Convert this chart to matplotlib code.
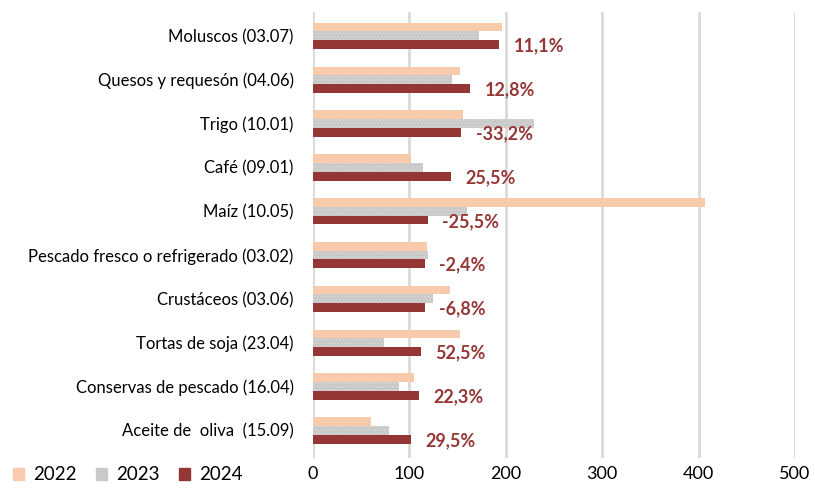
import numpy as np
import matplotlib.pyplot as plt
from matplotlib.patches import Patch

# Datos (de abajo hacia arriba)
productos = ['Aceite de  oliva  (15.09)', 'Conservas de pescado (16.04)', 'Tortas de soja (23.04)',
             'Crustáceos (03.06)', 'Pescado fresco o refrigerado (03.02)', 'Maíz (10.05)',
             'Café (09.01)', 'Trigo (10.01)', 'Quesos y requesón (04.06)', 'Moluscos (03.07)']
v2022 = [60, 105, 152, 142, 118, 407, 102, 156, 152, 196]
v2023 = [79, 89, 74, 124, 119, 160, 114, 229, 144, 172]
v2024 = [102, 110, 112, 116, 116, 119, 143, 154, 163, 193]
variacion = ['29,5%', '22,3%', '52,5%', '-6,8%', '-2,4%', '-25,5%', '25,5%', '-33,2%', '12,8%', '11,1%']

c22 = '#F8CBAD'
c23 = '#C9C9C9'
c24 = '#943634'

plt.rcParams['font.family'] = ['Lato', 'DejaVu Sans']
plt.rcParams['hatch.linewidth'] = 0.6

fig = plt.figure(figsize=(8.15, 4.88), dpi=100)
ax = fig.add_axes([0.384, 0.0615, 0.5915, 0.9135])

y = np.arange(len(productos))
h = 0.2
ax.barh(y + h, v2022, height=h, color=c22, zorder=3)
ax.barh(y, v2023, height=h, color=c23, edgecolor='#DCDCDC', linewidth=0, hatch='.....', zorder=3)
ax.barh(y - h, v2024, height=h, color=c24, zorder=3)

for yi, v, t in zip(y, v2024, variacion):
    ax.text(v + 15, yi - h - 0.03, t, color='#953735', fontsize=13, fontweight='bold',
            va='center', ha='left', zorder=4)

ax.set_xlim(0, 500)
ax.set_ylim(-0.63, 9.54)
ax.set_xticks(range(0, 501, 100))
ax.set_yticks(y)
ax.set_yticklabels(productos, fontsize=12)
ax.tick_params(axis='x', labelsize=13, length=0, pad=6)
ax.tick_params(axis='y', length=0, pad=14)
ax.grid(axis='x', color='#D9D9D9', linewidth=2, zorder=0)
for s in ax.spines.values():
    s.set_visible(False)

handles = [Patch(color=c22), Patch(color=c23), Patch(color=c24)]
fig.legend(handles, ['2022', '2023', '2024'], loc='lower left', bbox_to_anchor=(-0.005, -0.025),
           ncol=3, frameon=False, fontsize=13.5, handlelength=0.6, handleheight=0.6,
           handletextpad=0.5, columnspacing=1.0)

fig.savefig('out.png', dpi=100)
